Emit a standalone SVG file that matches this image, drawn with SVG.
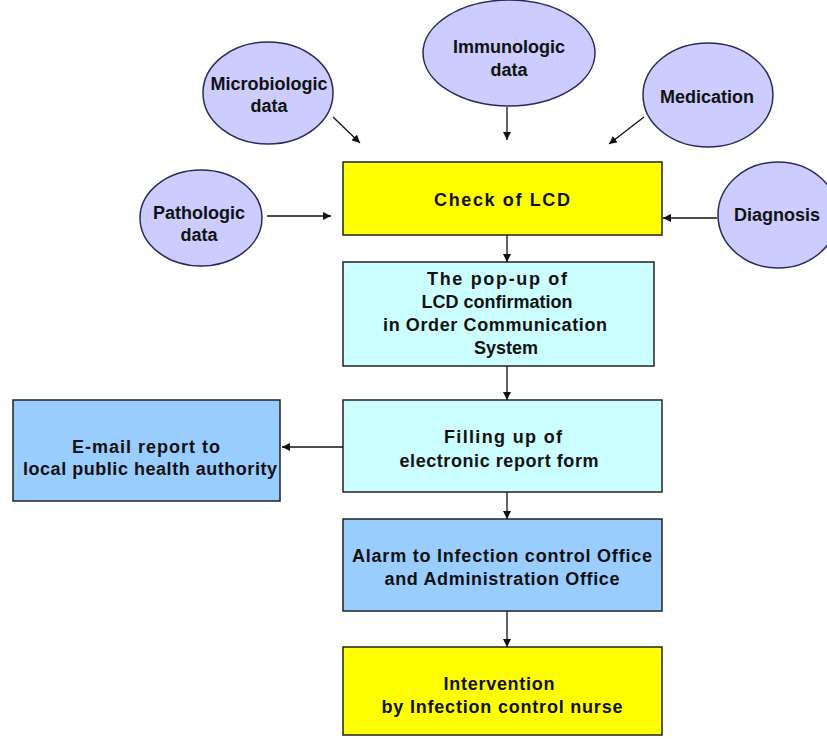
<svg xmlns="http://www.w3.org/2000/svg" width="827" height="739" viewBox="0 0 827 739">
<defs>
<marker id="ah" viewBox="0 0 10 10" refX="10" refY="5" markerWidth="8" markerHeight="8" markerUnits="userSpaceOnUse" orient="auto">
<path d="M0,0 L10,5 L0,10 z" fill="#111"/>
</marker>
</defs>
<style>
text{font-family:"Liberation Sans",Arial,sans-serif;font-weight:bold;font-size:18px;fill:#111;text-anchor:middle}
.el{fill:#CCCCFF;stroke:#2a2a55;stroke-width:1.5}
.box{stroke:#222;stroke-width:1.5}
.y{fill:#FFFF00}
.c{fill:#CCFFFF}
.b{fill:#99CCFF}
.cn line{stroke:#111;stroke-width:1.3;marker-end:url(#ah)}
</style>
<rect width="827" height="739" fill="#fff"/>
<g id="microbiologic">
<ellipse class="el" cx="268" cy="93" rx="65" ry="51"/>
<text x="269" y="90">Microbiologic</text>
<text x="269" y="112">data</text>
</g>
<g id="immunologic">
<ellipse class="el" cx="509" cy="53" rx="86" ry="53"/>
<text x="509" y="53">Immunologic</text>
<text x="509" y="76">data</text>
</g>
<g id="medication">
<ellipse class="el" cx="708" cy="95" rx="65" ry="52"/>
<text x="707" y="103">Medication</text>
</g>
<g id="pathologic">
<ellipse class="el" cx="201" cy="218" rx="61" ry="48"/>
<text x="199" y="219">Pathologic</text>
<text x="199" y="241">data</text>
</g>
<g id="diagnosis">
<ellipse class="el" cx="778" cy="215" rx="60" ry="53"/>
<text x="777" y="221">Diagnosis</text>
</g>
<g id="check">
<rect class="box y" x="343" y="162" width="319" height="73"/>
<text x="502" y="206" textLength="136">Check of LCD</text>
</g>
<g id="popup">
<rect class="box c" x="343" y="262" width="311" height="104"/>
<text x="497" y="285" textLength="140">The pop-up of</text>
<text x="497" y="308">LCD confirmation</text>
<text x="495" y="331" textLength="224">in Order Communication</text>
<text x="506" y="354">System</text>
</g>
<g id="filling">
<rect class="box c" x="343" y="400" width="319" height="92"/>
<text x="503" y="443" textLength="118">Filling up of</text>
<text x="499" y="467" textLength="199">electronic report form</text>
</g>
<g id="email">
<rect class="box b" x="13" y="400" width="267" height="101"/>
<text x="146" y="453" textLength="148">E-mail report to</text>
<text x="150" y="475" textLength="254">local public health authority</text>
</g>
<g id="alarm">
<rect class="box b" x="343" y="519" width="319" height="92"/>
<text x="502" y="562" textLength="300">Alarm to Infection control Office</text>
<text x="502" y="585" textLength="235">and Administration Office</text>
</g>
<g id="intervention">
<rect class="box y" x="343" y="647" width="319" height="88"/>
<text x="499" y="690" textLength="111">Intervention</text>
<text x="502" y="713" textLength="241">by Infection control nurse</text>
</g>
<g id="connectors" class="cn">
<line x1="333" y1="117" x2="360" y2="143"/>
<line x1="507" y1="107" x2="507" y2="140"/>
<line x1="644" y1="117" x2="609" y2="144"/>
<line x1="267" y1="216" x2="331" y2="216"/>
<line x1="717" y1="218" x2="663" y2="218"/>
<line x1="507" y1="235" x2="507" y2="262"/>
<line x1="507" y1="366" x2="507" y2="400"/>
<line x1="343" y1="447" x2="282" y2="447"/>
<line x1="507" y1="492" x2="507" y2="519"/>
<line x1="507" y1="611" x2="507" y2="647"/>
</g>
</svg>
